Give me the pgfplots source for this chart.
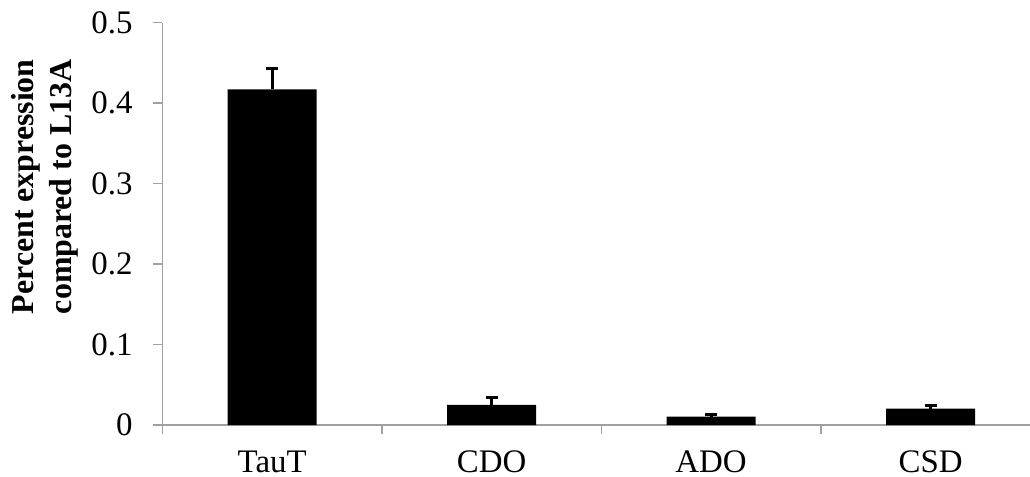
\documentclass[border=0pt]{standalone}
\usepackage{pgfplots}
\pgfplotsset{compat=1.18}
\usepackage{fontspec}
\setmainfont{Liberation Serif}
\definecolor{axgray}{RGB}{160,160,160}
\begin{document}
\fontsize{32}{38}\selectfont
\begin{tikzpicture}
\path[use as bounding box] (-162.4bp,-52bp) rectangle (867.6bp,425bp);
\begin{axis}[
  at={(0,0)}, anchor=south west,
  scale only axis,
  width=867.6bp, height=402.3bp,
  xmin=-0.5, xmax=3.453,
  ymin=0, ymax=0.5,
  axis x line*=bottom, axis y line*=left,
  axis line style={axgray, line width=1.5bp, -},
  tick style={axgray, line width=1.5bp},
  tick align=outside,
  major tick length=9bp,
  ytick={0,0.1,0.2,0.3,0.4,0.5},
  yticklabels={0,0.1,0.2,0.3,0.4,0.5},
  xtick={-0.5,0.5,1.5,2.5},
  xticklabels={},
  extra x ticks={0,1,2,3},
  extra x tick labels={TauT,CDO,ADO,CSD},
  extra x tick style={major tick length=0bp, xticklabel style={inner sep=0pt, anchor=north, yshift=-26bp}},
  xticklabel style={font=\fontsize{33}{38}\selectfont},
  yticklabel style={font=\fontsize{33}{38}\selectfont, xshift=-10bp},
  /pgf/number format/assume math mode=true,
  ylabel={Percent expression\\compared to L13A},
  ylabel style={font=\fontsize{32}{38}\selectfont\bfseries, align=center,
    at={([xshift=-73bp]axis description cs:0,0.592)}, anchor=south},
  clip=false,
]
\addplot[ybar, bar width=89bp, fill=black, draw=none,
  error bars/.cd, y dir=plus, y explicit,
  error bar style={black, line width=3bp},
  error mark options={black, line width=3bp, mark size=6bp, rotate=90}]
  coordinates {
  (0,0.417) +- (0,0.0265)
  (1,0.0249) +- (0,0.0097)
  (2,0.0103) +- (0,0.0024)
  (3,0.0203) +- (0,0.0036)
};
\end{axis}
\end{tikzpicture}
\end{document}
